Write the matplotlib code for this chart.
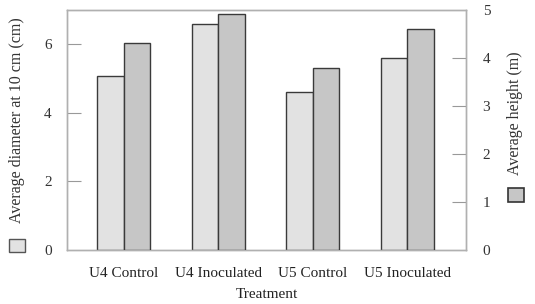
import matplotlib
matplotlib.use("Agg")
import matplotlib.pyplot as plt
from matplotlib.patches import Rectangle
import numpy as np

categories = ["U4 Control", "U4 Inoculated", "U5 Control", "U5 Inoculated"]
diameter_cm = [5.08, 6.60, 4.61, 5.60]
height_m = [4.31, 4.91, 3.80, 4.60]
left_ticks = [0, 2, 4, 6]
right_ticks = [0, 1, 2, 3, 4, 5]

plt.rcParams['font.family'] = ['Liberation Serif', 'DejaVu Serif']
fs = 11

fig = plt.figure(figsize=(5.35, 3.04), dpi=100)
ax = fig.add_axes([67/535, 54/304, 399/535, 240/304])
ax2 = ax.twinx()

x = np.arange(len(categories))
w = 0.28
c1 = '#e2e2e2'
c2 = '#c6c6c6'
ec = '#3a3a3a'
ax.bar(x - w/2, diameter_cm, width=w, color=c1, edgecolor=ec, linewidth=1.0, zorder=3)
ax2.bar(x + w/2, height_m, width=w, color=c2, edgecolor=ec, linewidth=1.0, zorder=3)

ax.set_xlim(-0.6, 3.62)
ax.set_ylim(0, 7)
ax2.set_ylim(0, 5)
ax.set_yticks(left_ticks)
ax2.set_yticks(right_ticks)
ax.set_xticks(x)
ax.set_xticklabels(categories, fontsize=fs, color='#222222')
ax.tick_params(axis='x', length=0, pad=12)
ax.tick_params(axis='y', direction='in', length=10, width=0.8, color='#999999',
               labelsize=fs, labelcolor='#333333', pad=11)
ax2.tick_params(axis='y', direction='in', length=10, width=0.8, color='#999999',
                labelsize=fs, labelcolor='#333333', pad=12)
ax2.yaxis.get_major_ticks()[0].tick2line.set_visible(False)
ax2.yaxis.get_major_ticks()[-1].tick2line.set_visible(False)
ax.yaxis.get_major_ticks()[0].tick1line.set_visible(False)

for a in (ax, ax2):
    for s in a.spines.values():
        s.set_color('#b0b0b0')
        s.set_linewidth(1.0)

ax.set_xlabel("Treatment", fontsize=fs, color='#222222', labelpad=6)

fig.text(17/535, 1 - 120/304, "Average diameter at 10 cm (cm)", rotation=90,
         ha='center', va='center', fontsize=11.5, color='#333333')
fig.text(515/535, 1 - 113/304, "Average height (m)", rotation=90,
         ha='center', va='center', fontsize=11.5, color='#333333')

fig.add_artist(Rectangle((9/535, 1 - 252/304), 16/535, 13/304, transform=fig.transFigure,
                         facecolor=c1, edgecolor='#555555', linewidth=1.0))
fig.add_artist(Rectangle((508/535, 1 - 202/304), 16/535, 14/304, transform=fig.transFigure,
                         facecolor=c2, edgecolor='#333333', linewidth=1.2))

fig.savefig("out.png", dpi=100, facecolor='white')
